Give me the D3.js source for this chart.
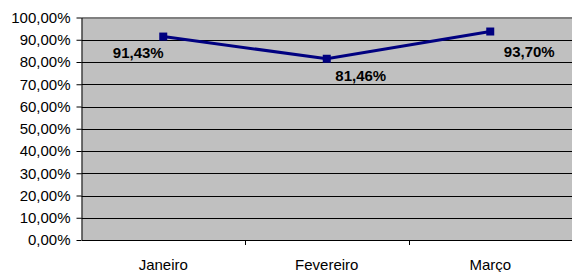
<!DOCTYPE html>
<html>
<head>
<meta charset="utf-8">
<script src="https://cdn.jsdelivr.net/npm/d3@7"></script>
<style>
  body { margin: 0; background: #fff; }
  svg { display: block; }
  text { font-family: "Liberation Sans", Arial, sans-serif; }
</style>
</head>
<body>
<svg width="572" height="272"></svg>
<script>
const months = ["Janeiro", "Fevereiro", "Março"];
const rates = [0.9143, 0.8146, 0.9370];
const yTicks = [0, 0.1, 0.2, 0.3, 0.4, 0.5, 0.6, 0.7, 0.8, 0.9, 1.0];

// label offsets relative to each marker (as in the original layout)
const labelOffsets = [[-25, 21], [34, 22], [39, 25]];

const lineColor = "#000080";
const plotColor = "#C0C0C0";

let svg = d3.select("svg");

const plotLeft = 81.5, plotRight = 572, plotTop = 17.5, plotBottom = 240;

let x = d3.scaleBand().domain(months).range([plotLeft, plotRight]);
let y = d3.scaleLinear().domain([0, 1]).range([plotBottom, plotTop]);

const fmt = v => (v * 100).toFixed(2).replace(".", ",") + "%";

// plot area
svg.append("rect")
    .attr("x", plotLeft).attr("y", plotTop)
    .attr("width", plotRight - plotLeft + 5).attr("height", plotBottom - plotTop)
    .attr("fill", plotColor);

// gridlines
svg.append("g").selectAll("line")
    .data(yTicks.filter(d => d > 0 && d < 1)).enter()
    .append("line")
    .attr("x1", plotLeft).attr("x2", plotRight + 5)
    .attr("y1", d => Math.round(y(d)) + 0.5).attr("y2", d => Math.round(y(d)) + 0.5)
    .attr("stroke", "#000").attr("stroke-width", 1);

// top border
svg.append("line")
    .attr("x1", plotLeft).attr("x2", plotRight + 5)
    .attr("y1", plotTop + 0.5).attr("y2", plotTop + 0.5)
    .attr("stroke", "#808080").attr("stroke-width", 2);

// y axis
let yAxis = svg.append("g")
    .attr("transform", "translate(" + plotLeft + ",0)")
    .call(d3.axisLeft(y).tickValues(yTicks).tickFormat(fmt).tickSizeInner(5).tickSizeOuter(0).tickPadding(6));
yAxis.selectAll("text").attr("font-size", 15).attr("fill", "#000")
    .style("font-family", "'Liberation Sans', Arial, sans-serif");
yAxis.select(".domain").attr("stroke", "#000");

// x axis
let xAxis = svg.append("g")
    .attr("transform", "translate(0," + plotBottom + ")")
    .call(d3.axisBottom(x).tickSize(0).tickPadding(19));
xAxis.select(".domain").attr("stroke", "#000");
xAxis.selectAll("text").attr("font-size", 15).attr("fill", "#000")
    .style("font-family", "'Liberation Sans', Arial, sans-serif");

// category boundary ticks
svg.append("g").selectAll("line")
    .data(months.slice(1)).enter()
    .append("line")
    .attr("x1", d => Math.round(x(d)) + 0.5).attr("x2", d => Math.round(x(d)) + 0.5)
    .attr("y1", plotBottom).attr("y2", plotBottom + 5)
    .attr("stroke", "#000");

// line
let line = d3.line()
    .x((d, i) => x(months[i]) + x.bandwidth() / 2)
    .y(d => y(d));

svg.append("path")
    .datum(rates)
    .attr("d", line)
    .attr("fill", "none")
    .attr("stroke", lineColor)
    .attr("stroke-width", 3);

// markers
svg.append("g").selectAll("rect")
    .data(rates).enter()
    .append("rect")
    .attr("x", (d, i) => x(months[i]) + x.bandwidth() / 2 - 4)
    .attr("y", d => y(d) - 4)
    .attr("width", 8).attr("height", 8)
    .attr("fill", lineColor);

// data labels
svg.append("g").selectAll("text")
    .data(rates).enter()
    .append("text")
    .attr("x", (d, i) => x(months[i]) + x.bandwidth() / 2 + labelOffsets[i][0])
    .attr("y", (d, i) => y(d) + labelOffsets[i][1])
    .attr("text-anchor", "middle")
    .attr("font-size", 15)
    .attr("font-weight", "bold")
    .text(fmt);
</script>
</body>
</html>
